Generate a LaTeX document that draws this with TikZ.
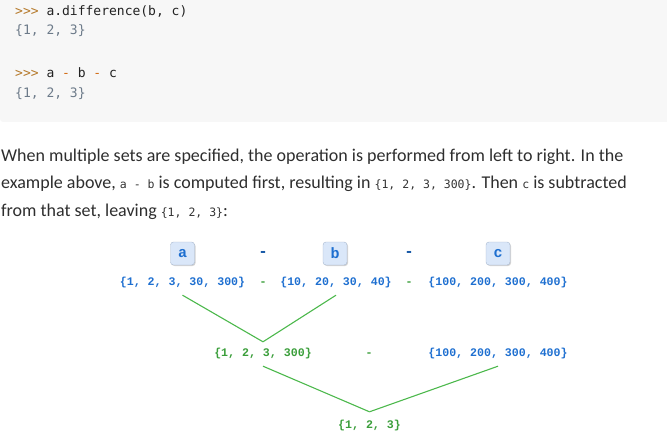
\documentclass[tikz,border=0pt]{standalone}
\usepackage{fontspec}
\setmainfont{Carlito}
\newfontfamily\codefont{DejaVu Sans Mono}
\newfontfamily\setfont{Liberation Mono}
\usetikzlibrary{shadows}
\definecolor{codebg}{HTML}{F7F7F7}
\definecolor{prompt}{HTML}{B5792A}
\definecolor{opminus}{HTML}{D26A12}
\definecolor{outgray}{HTML}{6C7A89}
\definecolor{codeblack}{HTML}{222222}
\definecolor{paratext}{HTML}{2E2E2E}
\definecolor{inlinecode}{HTML}{333333}
\definecolor{setblue}{HTML}{1E6FD0}
\definecolor{setgreen}{HTML}{3A9E3A}
\definecolor{linegreen}{HTML}{4CB84C}
\definecolor{boxfill}{HTML}{DAE7F9}
\definecolor{boxdraw}{HTML}{A7B7CE}
\newcommand{\ic}[1]{{\fontsize{11.5}{13}\codefont\color{inlinecode}#1}}
\begin{document}
\begin{tikzpicture}[x=1pt,y=-1pt,
  codeline/.style={anchor=base west,inner sep=0,font=\fontsize{13}{15}\codefont,text=codeblack},
  paraline/.style={anchor=base west,inner sep=0,font=\fontsize{18}{20}\selectfont,text=paratext},
  varbox/.style={draw=boxdraw,fill=boxfill,rounded corners=3pt,minimum width=24,minimum height=23,inner sep=0,
    font=\fontsize{15}{15}\setfont\bfseries,text=setblue,drop shadow={shadow xshift=1pt,shadow yshift=-1pt,opacity=0.35,fill=gray}},
  setnode/.style={anchor=base,inner xsep=0,inner ysep=0,text height=8,text depth=2,font=\fontsize{11.6}{13}\setfont\bfseries},
  bluesym/.style={anchor=base,inner sep=0,font=\fontsize{14}{14}\codefont\bfseries,text=setblue!80!black},
  greensym/.style={anchor=base,inner sep=0,font=\fontsize{11.6}{13}\setfont\bfseries,text=setgreen},
  conn/.style={draw=linegreen,line width=1.1pt}]
\useasboundingbox (0,0) rectangle (667,433);
% code block
\fill[codebg,rounded corners=3pt] (0,-6) rectangle (673,122);
\node[codeline] (l1) at (15,16) {\textcolor{prompt}{>{}>{}>} a.difference(b, c)};
\node[codeline,text=outgray] (l2) at (15,35) {\{1, 2, 3\}};
\node[codeline] (l3) at (15,78) {\textcolor{prompt}{>{}>{}>} a \textcolor{opminus}{-} b \textcolor{opminus}{-} c};
\node[codeline,text=outgray] (l4) at (15,98) {\{1, 2, 3\}};
% paragraph
\node[paraline] (p1) at (1,162) {When multiple sets are specified, the operation is performed from left to right. In the};
\node[paraline] (p2) at (1,189) {example above, \ic{a - b} is computed first, resulting in \ic{\{1, 2, 3, 300\}}. Then \ic{c} is subtracted};
\node[paraline] (p3) at (1,216) {from that set, leaving \ic{\{1, 2, 3\}}:};
% diagram row 1
\node[varbox] (va) at (182.5,253.5) {a};
\node[varbox] (vb) at (335,253.5) {b};
\node[varbox] (vc) at (498,253.5) {c};
\node[bluesym] (m1) at (263,256.5) {-};
\node[bluesym] (m2) at (409,256.5) {-};
% row 2
\node[setnode,text=setblue] (sa) at (182.5,285) {\{1, 2, 3, 30, 300\}};
\node[greensym] (g1) at (263,285) {-};
\node[setnode,text=setblue] (sb) at (336,285) {\{10, 20, 30, 40\}};
\node[greensym] (g2) at (409,285) {-};
\node[setnode,text=setblue] (sc) at (498,285) {\{100, 200, 300, 400\}};
% row 3
\node[setnode,text=setgreen] (r1) at (263,356) {\{1, 2, 3, 300\}};
\node[greensym] (g3) at (369,356) {-};
\node[setnode,text=setblue] (sc2) at (498,356) {\{100, 200, 300, 400\}};
% row 4
\node[setnode,text=setgreen] (fin) at (369.5,428) {\{1, 2, 3\}};
% connectors
\draw[conn] ([yshift=-8pt]sa.south) -- ([yshift=6pt]r1.north);
\draw[conn] ([yshift=-8pt]sb.south) -- ([yshift=6pt]r1.north);
\draw[conn] ([yshift=-8pt]r1.south) -- ([yshift=8pt]fin.north);
\draw[conn] ([yshift=-8pt]sc2.south) -- ([yshift=8pt]fin.north);
\end{tikzpicture}
\end{document}
